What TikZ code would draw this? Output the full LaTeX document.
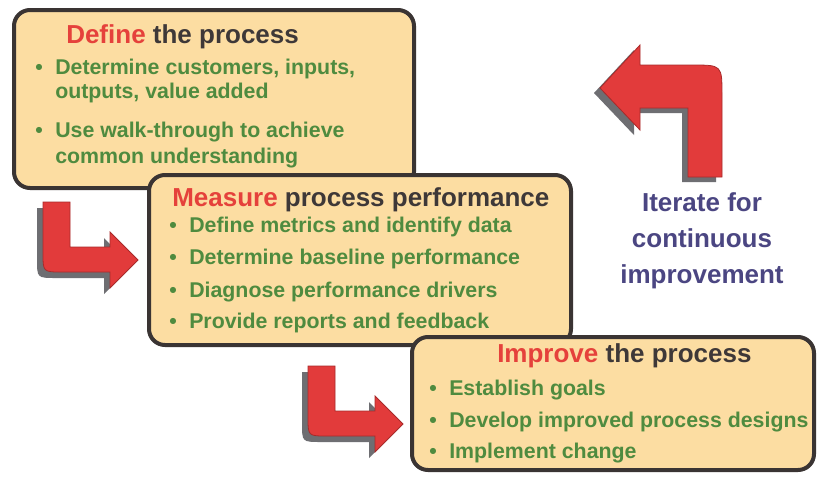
\documentclass[tikz,border=0pt]{standalone}
\usepackage{fontspec}
\setmainfont{Liberation Sans}

\definecolor{boxfill}{HTML}{FCDDA2}
\definecolor{boxline}{HTML}{3A3433}
\definecolor{redtxt}{HTML}{E5413B}
\definecolor{darktxt}{HTML}{3E3838}
\definecolor{greentxt}{HTML}{4F8B3F}
\definecolor{navytxt}{HTML}{4B4682}
\definecolor{arrowred}{HTML}{E23B3B}
\definecolor{arrowedge}{HTML}{A82A2A}
\definecolor{shadowgray}{HTML}{6E6E72}

\newcommand{\bul}{\makebox[15pt][l]{\textbullet}}

\tikzset{
  procbox/.style={draw=boxline, fill=boxfill, line width=3pt, rounded corners=12pt, inner sep=0pt},
  title/.style={anchor=base west, inner sep=0pt, text=darktxt, font=\bfseries\fontsize{19.5}{23}\selectfont},
  item/.style={anchor=base west, inner sep=0pt, text=greentxt, font=\bfseries\fontsize{16}{19}\selectfont},
  bendarrow/.style={fill=arrowred, draw=arrowedge, line width=0.6pt},
  arrowshadow/.style={fill=shadowgray},
}

\begin{document}
\begin{tikzpicture}[x=0.75pt, y=-0.75pt]

\useasboundingbox[fill=white] (0,0) rectangle (819,476);

% Define
\node[procbox, minimum width=300pt, minimum height=133.5pt] (definebox) at (214,99) {};
\node[title] (definetitle) at (66,43) {\textcolor{redtxt}{Define} the process};
\node[item] (define1) at (35,74) {\bul Determine customers, inputs,};
\node[item] (define1b) at (55,98) {outputs, value added};
\node[item] (define2) at (35,137) {\bul Use walk-through to achieve};
\node[item] (define2b) at (55,163) {common understanding};

% Measure
\node[procbox, minimum width=316.5pt, minimum height=127.5pt] (measurebox) at (360,260) {};
\node[title] (measuretitle) at (172,206) {\textcolor{redtxt}{Measure} process performance};
\node[item] (measure1) at (169,232) {\bul Define metrics and identify data};
\node[item] (measure2) at (169,264) {\bul Determine baseline performance};
\node[item] (measure3) at (169,297) {\bul Diagnose performance drivers};
\node[item] (measure4) at (169,328) {\bul Provide reports and feedback};

% Improve
\node[procbox, minimum width=301.5pt, minimum height=99.75pt] (improvebox) at (613,403.5) {};
\node[title] (improvetitle) at (497,362) {\textcolor{redtxt}{Improve} the process};
\node[item] (improve1) at (429,395) {\bul Establish goals};
\node[item] (improve2) at (429,427) {\bul Develop improved process designs};
\node[item] (improve3) at (429,458) {\bul Implement change};

% arrows
\foreach \dx/\dy in {0/0, 265/164} {
  \fill[arrowshadow, shift={(\dx-6,\dy+6)}] (43,202) -- (70,202) -- (70,247) -- (110,247) -- (110,232) -- (138,260)
    -- (110,288) -- (110,272) -- (62,272) .. controls (43,272) .. (43,253) -- cycle;
  \draw[bendarrow, shift={(\dx,\dy)}] (43,202) -- (70,202) -- (70,247) -- (110,247) -- (110,232) -- (138,260)
    -- (110,288) -- (110,272) -- (62,272) .. controls (43,272) .. (43,253) -- cycle;
}

\fill[arrowshadow, shift={(-6,5)}] (688,177) -- (722,177) -- (722,95) .. controls (722,65) .. (692,65) -- (640,65)
  -- (640,45) -- (600,88) -- (640,130) -- (640,108) -- (688,108) -- cycle;
\draw[bendarrow] (688,177) -- (722,177) -- (722,95) .. controls (722,65) .. (692,65) -- (640,65)
  -- (640,45) -- (600,88) -- (640,130) -- (640,108) -- (688,108) -- cycle;

\node[align=center, inner sep=0pt, text=navytxt, font=\bfseries\fontsize{19.5}{27}\selectfont] (iterate) at (702,241)
  {Iterate for\\continuous\\improvement};

\end{tikzpicture}
\end{document}
